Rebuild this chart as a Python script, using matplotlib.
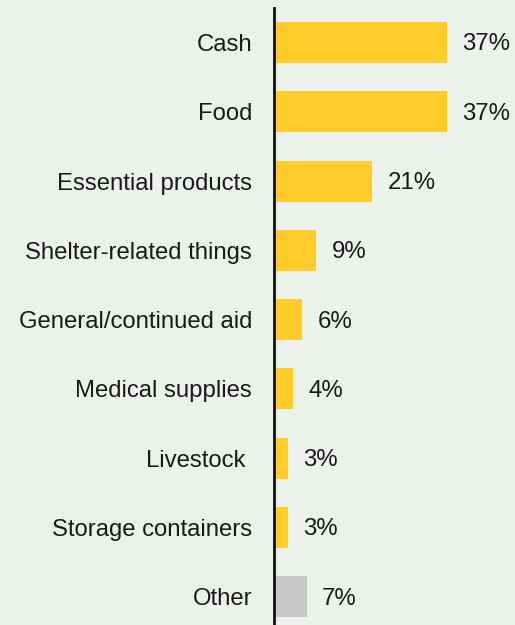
import matplotlib.pyplot as plt
from matplotlib.transforms import ScaledTranslation

categories = ["Cash", "Food", "Essential products", "Shelter-related things",
              "General/continued aid", "Medical supplies", "Livestock ",
              "Storage containers", "Other"]
values = [37, 37, 21, 9, 6, 4, 3, 3, 7]
labels = ["37%", "37%", "21%", "9%", "6%", "4%", "3%", "3%", "7%"]

bg = "#EDF1EC"
yellow = "#FFCC29"
grey = "#C8C8C9"
colors = [grey if c == "Other" else yellow for c in categories]

plt.rcParams['font.family'] = ['Liberation Sans', 'DejaVu Sans']

fig = plt.figure(figsize=(5.15, 6.25), dpi=100, facecolor=bg)
ax = fig.add_axes([274 / 515, 0, 241 / 515, 617 / 625])
ax.set_facecolor(bg)

ypos = list(range(len(categories)))
ax.barh(ypos, values, height=0.592, color=colors, zorder=2)

down = ScaledTranslation(0, -2 / 100, fig.dpi_scale_trans)
up = ScaledTranslation(0, 2 / 100, fig.dpi_scale_trans)

for y, v, t in zip(ypos, values, labels):
    ax.text(v + 3.3, y, t, va="center", ha="left", fontsize=17.3,
            color="#1a1a1a", transform=ax.transData + down)

ax.set_xlim(0, 51.5)
ax.set_ylim(8.41, -0.498)
ax.set_yticks(ypos)
ax.set_yticklabels(categories, fontsize=17.2, color="#1a1a1a")
for lab in ax.get_yticklabels():
    lab.set_transform(lab.get_transform() + up)
ax.tick_params(axis="y", length=0, pad=15.8)
ax.set_xticks([])
for s in ["top", "right", "bottom"]:
    ax.spines[s].set_visible(False)
ax.spines["left"].set_linewidth(2)
ax.spines["left"].set_color("#111111")
ax.spines["left"].set_zorder(3)

fig.savefig("out.png", dpi=100, facecolor=bg)
